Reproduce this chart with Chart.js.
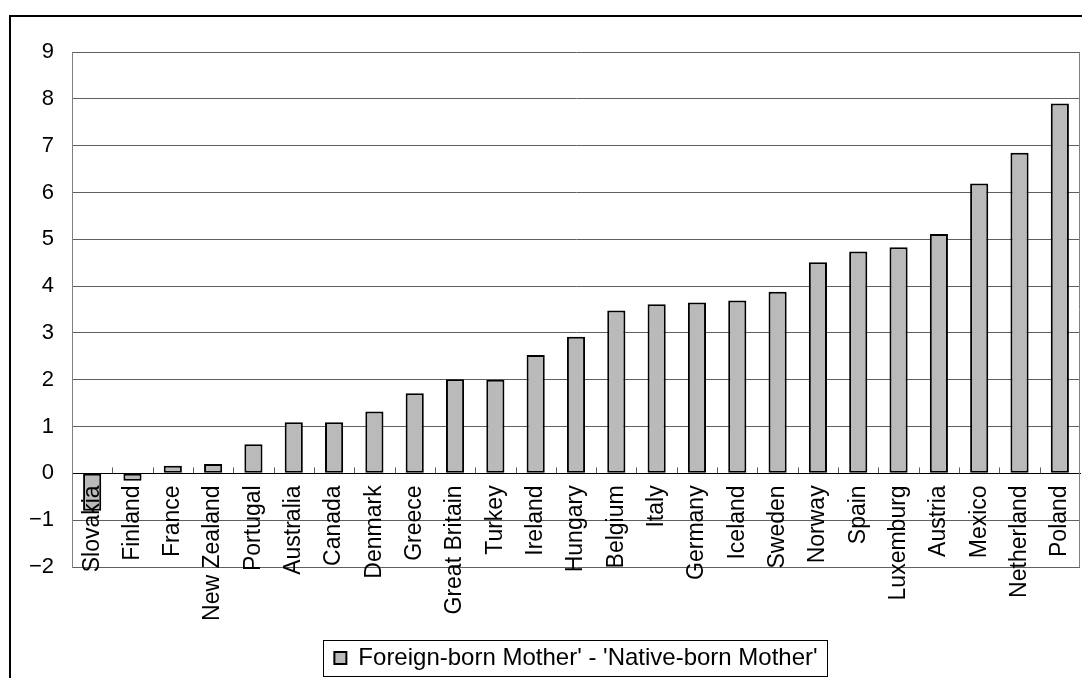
<!DOCTYPE html>
<html>
<head>
<meta charset="utf-8">
<script src="https://cdn.jsdelivr.net/npm/chart.js@4/dist/chart.umd.min.js"></script>
<style>
  html, body { margin: 0; padding: 0; background: #fff; overflow: hidden; }
  #wrap { position: absolute; left: 0; top: 0; width: 1082px; height: 678px; }
</style>
</head>
<body>
<div id="wrap"><canvas id="c" width="1082" height="678"></canvas></div>
<script>
// Countries, ordered from lowest to highest gap
const countries = [
  'Slovakia', 'Finland', 'France', 'New Zealand', 'Portugal', 'Australia',
  'Canada', 'Denmark', 'Greece', 'Great Britain', 'Turkey', 'Ireland',
  'Hungary', 'Belgium', 'Italy', 'Germany', 'Iceland', 'Sweden', 'Norway',
  'Spain', 'Luxemburg', 'Austria', 'Mexico', 'Netherland', 'Poland'
];

// Difference: foreign-born mother minus native-born mother
const gapValues = [
  -0.80, -0.16, 0.16, 0.20, 0.62, 1.09,
  1.09, 1.32, 1.71, 2.01, 2.00, 2.53,
  2.92, 3.48, 3.61, 3.65, 3.69, 3.88, 4.51,
  4.74, 4.83, 5.11, 6.19, 6.85, 7.90
];

const seriesLabel = "Foreign-born Mother' - 'Native-born Mother'";

// Value axis range and step
const yMin = -2;
const yMax = 9;
const yStep = 1;

Chart.defaults.font.family = "'Liberation Sans', Arial, sans-serif";
Chart.defaults.font.size = 22;
Chart.defaults.color = '#000';

// Frame, plot-area outline, small category tick marks and legend border
const decorations = {
  id: 'decorations',
  beforeDraw(chart) {
    const ctx = chart.ctx;
    ctx.save();
    ctx.fillStyle = '#fff';
    ctx.fillRect(0, 0, chart.width, chart.height);
    ctx.fillStyle = '#000';
    ctx.fillRect(9, 15, chart.width - 9, 2);
    ctx.fillRect(9, 15, 2, chart.height - 15);
    ctx.restore();
  },
  beforeDatasetsDraw(chart) {
    const ctx = chart.ctx;
    const a = chart.chartArea;
    ctx.save();
    ctx.strokeStyle = '#808080';
    ctx.lineWidth = 1;
    ctx.beginPath();
    ctx.moveTo(Math.round(a.right) - 0.5, a.top);
    ctx.lineTo(Math.round(a.right) - 0.5, a.bottom);
    ctx.stroke();
    // tick marks between categories, rising from the zero line
    const xs = chart.scales.x;
    const y0 = chart.scales.y.getPixelForValue(0);
    ctx.strokeStyle = '#606060';
    ctx.beginPath();
    for (let i = 0; i < countries.length - 1; i++) {
      const px = Math.round((xs.getPixelForValue(i) + xs.getPixelForValue(i + 1)) / 2) + 0.5;
      ctx.moveTo(px, y0);
      ctx.lineTo(px, y0 - 6);
    }
    ctx.stroke();
    ctx.restore();
  },
  afterDraw(chart) {
    const lg = chart.legend;
    if (!lg || !lg.legendHitBoxes || !lg.legendHitBoxes.length) return;
    const hb = lg.legendHitBoxes[0];
    const ctx = chart.ctx;
    const cy = hb.top + hb.height / 2;
    const left = Math.round(hb.left - 11) + 0.5;
    const right = Math.round(hb.left + hb.width + 9) + 0.5;
    const top = Math.round(cy - 18) + 0.5;
    const bottom = Math.round(cy + 18) + 0.5;
    ctx.save();
    ctx.strokeStyle = '#000';
    ctx.lineWidth = 1;
    ctx.strokeRect(left, top, right - left, bottom - top);
    ctx.restore();
  }
};

new Chart(document.getElementById('c'), {
  type: 'bar',
  data: {
    labels: countries,
    datasets: [{
      label: seriesLabel,
      data: gapValues,
      backgroundColor: '#bababa',
      borderColor: '#000',
      borderWidth: 2,
      borderSkipped: false,
      categoryPercentage: 1.0,
      barPercentage: 0.45
    }]
  },
  options: {
    responsive: false,
    devicePixelRatio: 1,
    animation: false,
    layout: { padding: { left: 0, top: 52, right: 2, bottom: -2 } },
    scales: {
      x: {
        position: { y: 0 },
        offset: true,
        afterFit(scale) {
          scale.paddingLeft = 0;
          scale.paddingRight = 0;
          scale.paddingTop = 0;
          scale.paddingBottom = 0;
        },
        grid: { display: false, drawTicks: false },
        border: { display: true, color: '#000', width: 1 },
        ticks: {
          autoSkip: false,
          minRotation: 90,
          maxRotation: 90,
          padding: 12,
          z: 1,
          color: '#000',
          font: { size: 23 }
        }
      },
      y: {
        min: yMin,
        max: yMax,
        afterFit(scale) { scale.width = 72; },
        grid: {
          drawTicks: false,
          color: (c) => (c.tick && c.tick.value === 0) ? '#000' : '#606060',
          lineWidth: 1
        },
        border: { display: true, color: '#808080', width: 1 },
        ticks: {
          stepSize: yStep,
          padding: 18,
          color: '#000',
          font: { size: 22 },
          callback: (v) => v < 0 ? '\u2212' + Math.abs(v) : String(v)
        }
      }
    },
    plugins: {
      tooltip: { enabled: false },
      legend: {
        position: 'bottom',
        fullSize: false,
        title: { display: true, text: '', font: { size: 10, lineHeight: 1 }, padding: { top: 0, bottom: 59 } },
        labels: {
          boxWidth: 12,
          boxHeight: 12,
          padding: 10,
          color: '#000',
          font: { size: 24 }
        }
      }
    }
  },
  plugins: [decorations]
});
</script>
</body>
</html>
